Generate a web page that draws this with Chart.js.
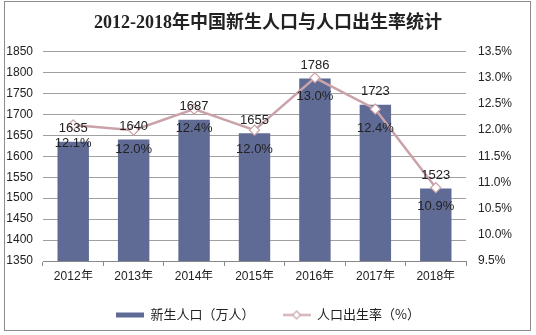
<!DOCTYPE html>
<html lang="zh-CN">
<head>
<meta charset="utf-8">
<title>2012-2018年中国新生人口与人口出生率统计</title>
<script src="https://cdn.jsdelivr.net/npm/chart.js@4/dist/chart.umd.min.js"></script>
<style>
    html, body { margin: 0; padding: 0; background: #fff; }
    #wrap { position: relative; width: 536px; height: 335px; }
    #frame {
        position: absolute; left: 4px; top: 1px; width: 527px; height: 330px;
        border: 1px solid #8c8c8c; box-sizing: border-box; pointer-events: none;
    }
</style>
</head>
<body>
<div id="wrap">
    <canvas id="birthChart" width="536" height="335"></canvas>
    <div id="frame"></div>
</div>
<script>
const years = ['2012年', '2013年', '2014年', '2015年', '2016年', '2017年', '2018年'];
const newborns = [1635, 1640, 1687, 1655, 1786, 1723, 1523];      // 万人
const birthRate = [12.1, 12.0, 12.4, 12.0, 13.0, 12.4, 10.9];      // %
const countTicks = [1350, 1400, 1450, 1500, 1550, 1600, 1650, 1700, 1750, 1800, 1850];
const rateTicks = [9.5, 10.0, 10.5, 11.0, 11.5, 12.0, 12.5, 13.0, 13.5];

const barColor = '#5f6b95';
const lineColor = '#c9a3a9';
const textColor = '#222';
const gridColor = '#a0a0a0';
const sansFamily = '"Liberation Sans", Arial, sans-serif';
const labelFont = '13px ' + sansFamily;

// small swatches for the legend: a flat bar and a line with a diamond
function makeSwatch(kind) {
    const c = document.createElement('canvas');
    c.width = 28;
    c.height = 12;
    const g = c.getContext('2d');
    if (kind === 'bar') {
        g.fillStyle = barColor;
        g.fillRect(0, 4, 28, 5);
    } else {
        g.strokeStyle = lineColor;
        g.lineWidth = 2;
        g.beginPath();
        g.moveTo(0, 6.5);
        g.lineTo(28, 6.5);
        g.stroke();
        g.fillStyle = '#fff';
        g.lineWidth = 1.2;
        g.beginPath();
        g.moveTo(14, 2.5);
        g.lineTo(18, 6.5);
        g.lineTo(14, 10.5);
        g.lineTo(10, 6.5);
        g.closePath();
        g.fill();
        g.stroke();
    }
    return c;
}

// writes the value above each bar and the rate below each point
const valueLabels = {
    id: 'valueLabels',
    afterDatasetsDraw(chart) {
        const ctx = chart.ctx;
        ctx.save();
        ctx.font = labelFont;
        ctx.fillStyle = textColor;
        ctx.textAlign = 'center';
        ctx.textBaseline = 'middle';
        chart.getDatasetMeta(0).data.forEach((bar, i) => {
            ctx.fillText(String(newborns[i]), bar.x, bar.y - 13);
        });
        chart.getDatasetMeta(1).data.forEach((pt, i) => {
            ctx.fillText(birthRate[i].toFixed(1) + '%', pt.x, pt.y + 19);
        });
        ctx.restore();
    }
};

const ctx = document.getElementById('birthChart').getContext('2d');
new Chart(ctx, {
    data: {
        labels: years,
        datasets: [{
            type: 'bar',
            label: '新生人口（万人）',
            data: newborns,
            backgroundColor: barColor,
            yAxisID: 'yCount',
            barPercentage: 0.52,
            categoryPercentage: 1,
            order: 2
        }, {
            type: 'line',
            label: '人口出生率（%）',
            data: birthRate,
            borderColor: lineColor,
            borderWidth: 2.5,
            pointStyle: 'rectRot',
            pointRadius: 5,
            pointBackgroundColor: '#fff',
            pointBorderColor: lineColor,
            pointBorderWidth: 1.2,
            tension: 0,
            yAxisID: 'yRate',
            order: 1
        }]
    },
    options: {
        responsive: false,
        animation: false,
        layout: { padding: { top: 0, bottom: 4 } },
        scales: {
            x: {
                grid: { drawOnChartArea: false, drawTicks: true, tickLength: 5, color: '#888', offset: true },
                border: { display: true, color: '#888' },
                ticks: { color: textColor, font: { size: 12, family: sansFamily }, padding: 3 },
                afterFit(scale) { scale.height = 19; }
            },
            yCount: {
                position: 'left',
                min: 1350,
                max: 1850,
                afterBuildTicks(scale) { scale.ticks = countTicks.map(v => ({ value: v })); },
                grid: { color: gridColor, drawTicks: false },
                border: { display: false },
                ticks: {
                    color: textColor,
                    font: { size: 12, family: sansFamily },
                    padding: 10,
                    callback: v => String(v)
                },
                afterFit(scale) { scale.width = 43; }
            },
            yRate: {
                position: 'right',
                min: 9.5,
                max: 13.5,
                afterBuildTicks(scale) { scale.ticks = rateTicks.map(v => ({ value: v })); },
                grid: { drawOnChartArea: false, drawTicks: false },
                border: { display: false },
                ticks: {
                    color: textColor,
                    font: { size: 12, family: sansFamily },
                    padding: 12,
                    callback: v => Number(v).toFixed(1) + '%'
                },
                afterFit(scale) { scale.width = 70; }
            }
        },
        plugins: {
            title: {
                display: true,
                text: '2012-2018年中国新生人口与人口出生率统计',
                color: textColor,
                font: { size: 18, weight: 'bold', family: '"Liberation Serif", "Noto Sans CJK SC", serif' },
                padding: { top: 13, bottom: 17 }
            },
            legend: {
                position: 'bottom',
                labels: {
                    usePointStyle: true,
                    pointStyleWidth: 28,
                    color: textColor,
                    font: { size: 13, family: '"Noto Sans CJK SC", sans-serif' },
                    padding: 28,
                    generateLabels() {
                        return [
                            { text: '新生人口（万人）', pointStyle: makeSwatch('bar'), fontColor: textColor, datasetIndex: 0, lineWidth: 0 },
                            { text: '人口出生率（%）', pointStyle: makeSwatch('line'), fontColor: textColor, datasetIndex: 1, lineWidth: 0 }
                        ];
                    }
                }
            },
            tooltip: { enabled: false }
        }
    },
    plugins: [valueLabels]
});
</script>
</body>
</html>
